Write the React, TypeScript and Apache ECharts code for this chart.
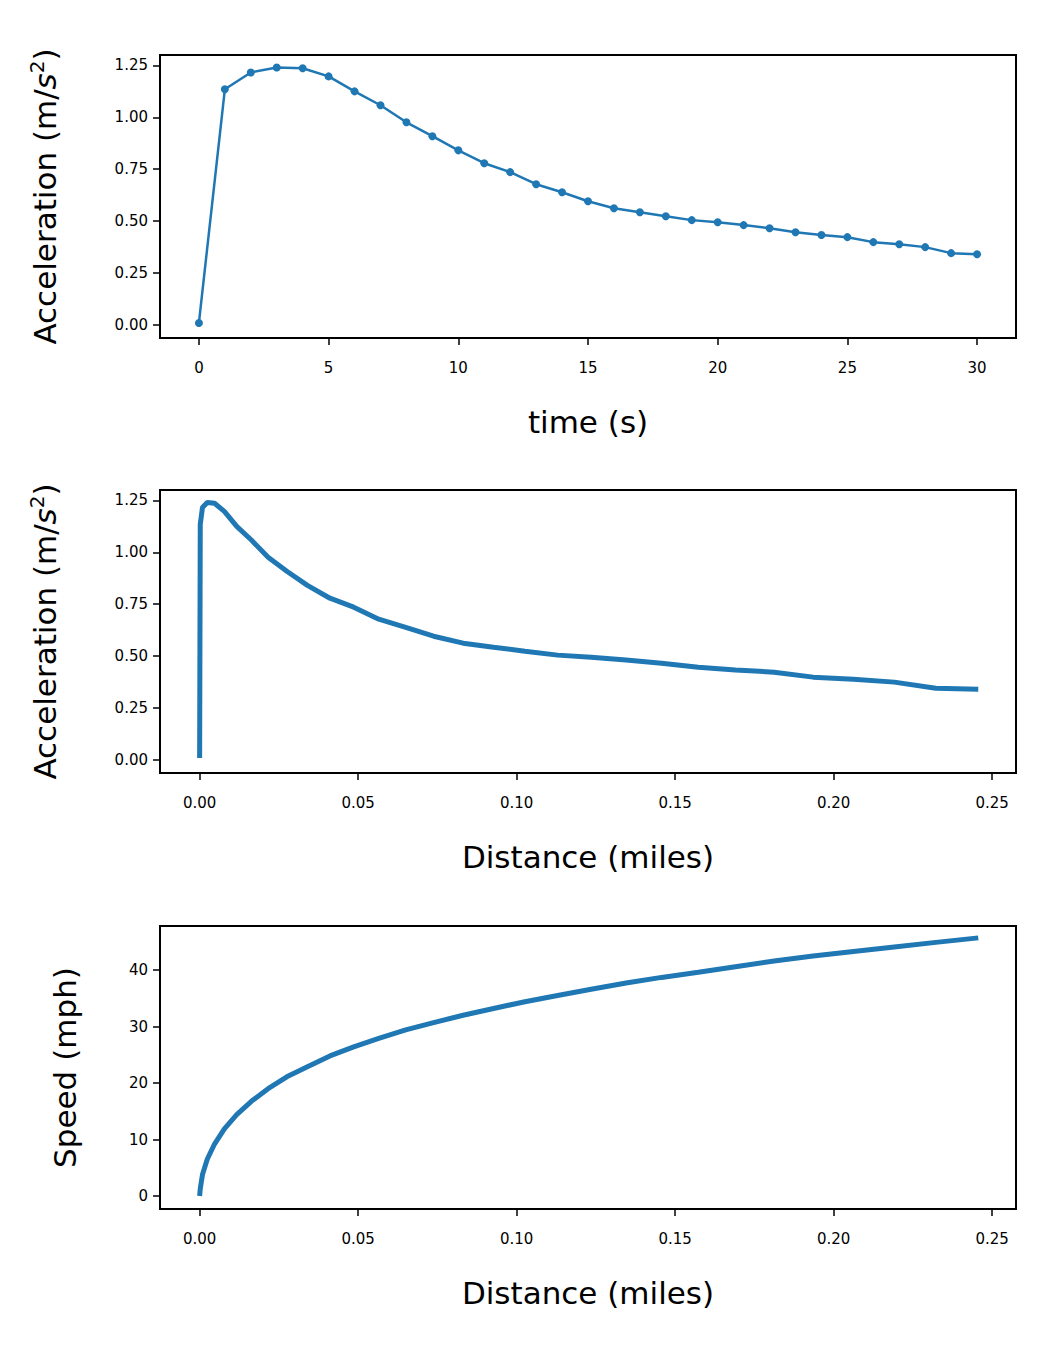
import React, { useEffect, useRef } from 'react';
import * as echarts from 'echarts';

const timeS = [0,1,2,3,4,5,6,7,8,9,10,11,12,13,14,15,16,17,18,19,20,21,22,23,24,25,26,27,28,29,30];
const accel = [0.01,1.135,1.216,1.24,1.236,1.197,1.125,1.058,0.976,0.909,0.841,0.779,0.736,0.678,0.639,0.596,0.5625,0.543,0.524,0.505,0.495,0.481,0.466,0.447,0.433,0.423,0.399,0.389,0.375,0.346,0.341];
const distMiles = [0,0.0002,0.0009,0.0024,0.0047,0.0078,0.0117,0.0164,0.0216,0.0275,0.034,0.0411,0.0486,0.0565,0.065,0.0738,0.0831,0.0927,0.1026,0.1129,0.1235,0.1345,0.1457,0.1573,0.169,0.1812,0.1935,0.2062,0.2191,0.2322,0.2456];
const speedMph = [0,1.3,3.8,6.5,9.2,11.9,14.4,16.8,19.0,21.1,22.9,24.8,26.4,27.9,29.4,30.7,32.0,33.2,34.4,35.5,36.6,37.7,38.7,39.6,40.6,41.6,42.5,43.3,44.1,44.9,45.7];

const timeTicks = [0,5,10,15,20,25,30];
const distTicks = [0,0.05,0.1,0.15,0.2,0.25];
const accelTicks = [0,0.25,0.5,0.75,1.0,1.25];
const speedTicks = [0,10,20,30,40];

const C = '#1f77b4';
const F = 'DejaVu Sans';
const NAME_SIZE = 31;

const accelName = '{a|Acceleration (m/}{i|s}{s|2}{a|)}';

export default function App() {
  const ref = useRef<HTMLDivElement>(null);
  useEffect(() => {
    const chart = echarts.init(ref.current!, null, { renderer: 'svg' });
    const tops = [55, 490, 926];
    const grid = tops.map((t) => ({ left: 160, width: 856, top: t, height: 283, show: true, borderColor: '#000', borderWidth: 2 }));
    const axisCommon = {
      axisLine: { show: true, onZero: false, lineStyle: { color: '#000', width: 2 } },
      axisTick: { show: true, inside: false, length: 7, lineStyle: { color: '#000', width: 1.5 } },
      splitLine: { show: false },
      nameLocation: 'middle' as const,
      nameTextStyle: { fontFamily: F, fontSize: NAME_SIZE, color: '#000' },
    };
    const lbl = (vals: number[], dec: number, margin: number) => ({
      customValues: vals,
      fontFamily: F, fontSize: 15, color: '#000', margin,
      formatter: (v: number) => v.toFixed(dec),
    });
    const tick = (vals: number[]) => ({ ...axisCommon.axisTick, customValues: vals });
    const xAxis = [
      { ...axisCommon, gridIndex: 0, type: 'value', min: -1.5, max: 31.5, name: 'time (s)', nameGap: 68,
        axisLabel: lbl(timeTicks, 0, 22), axisTick: tick(timeTicks) },
      { ...axisCommon, gridIndex: 1, type: 'value', min: -0.0125, max: 0.2575, name: 'Distance (miles)', nameGap: 68,
        axisLabel: lbl(distTicks, 2, 22), axisTick: tick(distTicks) },
      { ...axisCommon, gridIndex: 2, type: 'value', min: -0.0125, max: 0.2575, name: 'Distance (miles)', nameGap: 68,
        axisLabel: lbl(distTicks, 2, 22), axisTick: tick(distTicks) },
    ];
    const rich = {
      a: { fontFamily: F, fontSize: NAME_SIZE, color: '#000' },
      i: { fontFamily: F, fontSize: NAME_SIZE, color: '#000', fontStyle: 'italic' },
      s: { fontFamily: F, fontSize: 20, color: '#000', verticalAlign: 'top', padding: [0, 0, 16, 0] },
    };
    const yAxis = [
      { ...axisCommon, gridIndex: 0, type: 'value', min: -0.0625, max: 1.3, name: accelName, nameGap: 97,
        nameTextStyle: { ...axisCommon.nameTextStyle, rich },
        axisLabel: lbl(accelTicks, 2, 12), axisTick: tick(accelTicks) },
      { ...axisCommon, gridIndex: 1, type: 'value', min: -0.0625, max: 1.3, name: accelName, nameGap: 97,
        nameTextStyle: { ...axisCommon.nameTextStyle, rich },
        axisLabel: lbl(accelTicks, 2, 12), axisTick: tick(accelTicks) },
      { ...axisCommon, gridIndex: 2, type: 'value', min: -2.3, max: 47.8, name: 'Speed (mph)', nameGap: 80,
        axisLabel: lbl(speedTicks, 0, 12), axisTick: tick(speedTicks) },
    ];
    chart.setOption({
      animation: false,
      grid,
      xAxis,
      yAxis,
      series: [
        { type: 'line', xAxisIndex: 0, yAxisIndex: 0, data: timeS.map((t, i) => [t, accel[i]]),
          symbol: 'circle', symbolSize: 8, showSymbol: true, itemStyle: { color: C }, lineStyle: { color: C, width: 2.5 } },
        { type: 'line', xAxisIndex: 1, yAxisIndex: 1, data: distMiles.map((d, i) => [d, accel[i]]),
          symbol: 'none', lineStyle: { color: C, width: 5 } },
        { type: 'line', xAxisIndex: 2, yAxisIndex: 2, data: distMiles.map((d, i) => [d, speedMph[i]]),
          symbol: 'none', lineStyle: { color: C, width: 5 } },
      ],
    });
    return () => chart.dispose();
  }, []);
  return <div ref={ref} style={{ position: 'absolute', left: 0, top: 0, width: 1062, height: 1350, background: '#fff' }} />;
}
